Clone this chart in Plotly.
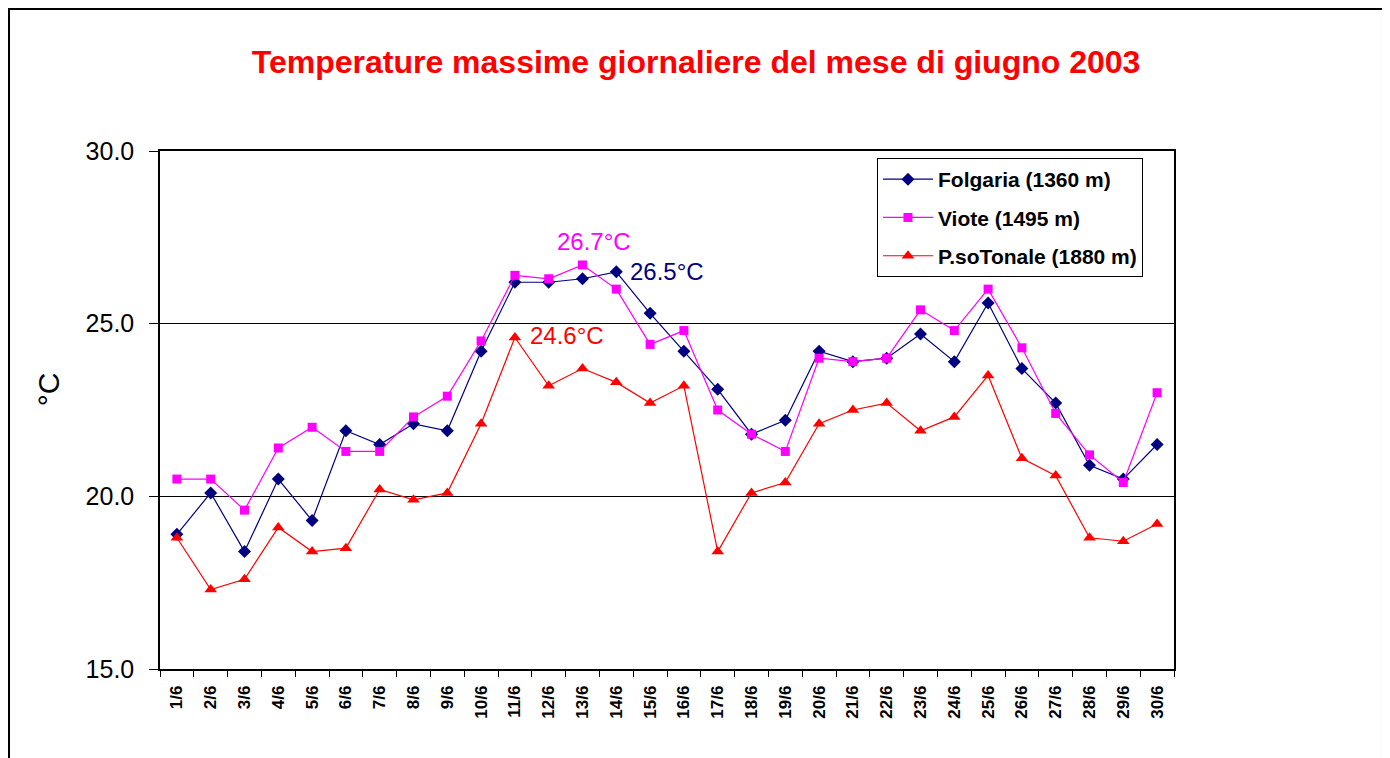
import plotly.graph_objects as go

days = [f"{d}/6" for d in range(1, 31)]
folgaria = [18.9, 20.1, 18.4, 20.5, 19.3, 21.9, 21.5, 22.1, 21.9, 24.2,
            26.2, 26.2, 26.3, 26.5, 25.3, 24.2, 23.1, 21.8, 22.2, 24.2,
            23.9, 24.0, 24.7, 23.9, 25.6, 23.7, 22.7, 20.9, 20.5, 21.5]
viote = [20.5, 20.5, 19.6, 21.4, 22.0, 21.3, 21.3, 22.3, 22.9, 24.5,
         26.4, 26.3, 26.7, 26.0, 24.4, 24.8, 22.5, 21.8, 21.3, 24.0,
         23.9, 24.0, 25.4, 24.8, 26.0, 24.3, 22.4, 21.2, 20.4, 23.0]
tonale = [18.8, 17.3, 17.6, 19.1, 18.4, 18.5, 20.2, 19.9, 20.1, 22.1,
          24.6, 23.2, 23.7, 23.3, 22.7, 23.2, 18.4, 20.1, 20.4, 22.1,
          22.5, 22.7, 21.9, 22.3, 23.5, 21.1, 20.6, 18.8, 18.7, 19.2]
series_names = ["Folgaria (1360 m)", "Viote (1495 m)", "P.soTonale (1880 m)"]
y_ticks = [15, 20, 25, 30]

FONT = "Arial, Liberation Sans, sans-serif"

fig = go.Figure()
fig.add_trace(go.Scatter(x=days, y=folgaria, name=series_names[0], mode="lines+markers",
                         line=dict(color="#000080", width=1.2),
                         marker=dict(symbol="diamond", size=10, color="#000080"),
                         legendgroup="a"))
fig.add_trace(go.Scatter(x=days, y=viote, name=series_names[1], mode="lines+markers",
                         line=dict(color="#FF00FF", width=1.2),
                         marker=dict(symbol="square", size=9, color="#FF00FF"),
                         legendgroup="b"))
fig.add_trace(go.Scatter(x=days, y=tonale, name=series_names[2], mode="lines+markers",
                         line=dict(color="#FF0000", width=1.2),
                         marker=dict(symbol="triangle-up", size=11, color="#FF0000"),
                         legendgroup="c"))

annots = [
    dict(x=days[12], y=viote[12], text=f"{viote[12]:.1f}°C", color="#FF00FF",
         xshift=11, yshift=23, xanchor="center"),
    dict(x=days[13], y=folgaria[13], text=f"{folgaria[13]:.1f}°C", color="#000080",
         xshift=12, yshift=0, xanchor="left"),
    dict(x=days[10], y=tonale[10], text=f"{tonale[10]:.1f}°C", color="#FF0000",
         xshift=13, yshift=2, xanchor="left"),
]
for a in annots:
    fig.add_annotation(x=a["x"], y=a["y"], text=a["text"], showarrow=False,
                       xanchor=a["xanchor"], yanchor="middle",
                       xshift=a["xshift"], yshift=a["yshift"],
                       font=dict(family=FONT, size=24, color=a["color"]))

fig.add_annotation(x=-0.1105, y=0.54, xref="paper", yref="paper", text="°C",
                   showarrow=False, textangle=-90, xanchor="center", yanchor="middle",
                   font=dict(family=FONT, size=30, color="black"))

fig.add_shape(type="rect", xref="paper", yref="paper",
              x0=-0.1489, x1=1.2061, y0=-0.35, y1=1.2741,
              line=dict(color="black", width=2))

fig.update_layout(
    width=1390, height=758,
    margin=dict(l=152, r=224, t=143, b=97),
    paper_bgcolor="white", plot_bgcolor="white",
    title=dict(text="<b>Temperature massime giornaliere del mese di giugno 2003</b>",
               x=0.495, xanchor="center", xref="container", y=0.9288, yanchor="middle",
               font=dict(family=FONT, size=32, color="#FF0000")),
    legend=dict(x=0.9694, y=0.9865, xanchor="right", yanchor="top",
                bordercolor="black", borderwidth=1, bgcolor="white",
                font=dict(family=FONT, size=21, color="black", weight="bold"),
                traceorder="grouped", tracegroupgap=8, itemwidth=50),
    showlegend=True,
    xaxis=dict(type="category", range=[-0.5, 29.5], tickson="boundaries",
               ticks="outside", ticklen=6, ticklabelstandoff=8,
               tickcolor="black", showline=True, linecolor="black", linewidth=1.5,
               mirror=True, showgrid=False, tickangle=-90,
               tickfont=dict(family=FONT, size=17, color="black", weight="bold")),
    yaxis=dict(range=[15, 30], tickvals=y_ticks, tickformat=".1f", ticks="outside",
               ticklen=9, ticklabelstandoff=10, tickcolor="black", showline=True,
               linecolor="black", linewidth=1.5, mirror=True, showgrid=True,
               gridcolor="black", gridwidth=1, zeroline=False,
               tickfont=dict(family=FONT, size=25, color="black")),
)

fig.write_html("out.html")
